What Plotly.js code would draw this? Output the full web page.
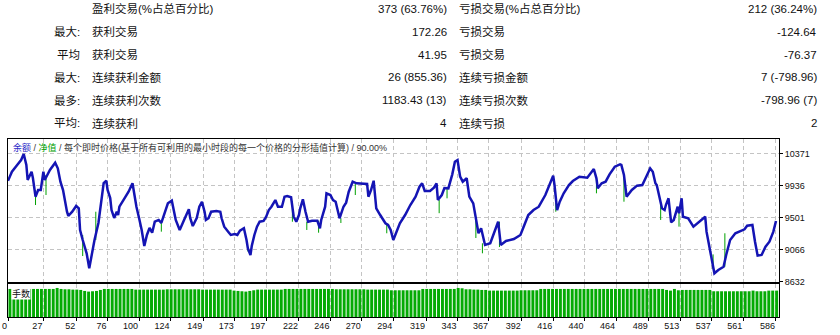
<!DOCTYPE html>
<html><head><meta charset="utf-8">
<script src="https://cdn.plot.ly/plotly-3.0.1.min.js"></script>
<style>html,body{margin:0;padding:0;background:#fff;}#chart{width:840px;height:335px;}</style>
</head><body><div id="chart"></div>
<script>
// ---------- data ----------
const balIdx = [0,3,7,10,12,14,15,18,19,21,23,25,27,28,30,32,36,38,40,42,45,46,49,52,54,55,57,60,62,64,66,69,71,73,75,76,78,79,81,83,84,85,89,92,95,96,98,100,102,104,106,108,110,112,115,117,120,122,125,126,128,131,133,135,138,139,141,144,146,148,150,151,153,155,159,162,163,165,168,170,173,175,177,180,182,183,185,186,188,190,192,195,197,199,201,204,206,209,211,213,216,218,220,222,223,225,227,229,232,236,238,239,242,243,246,248,250,253,256,258,260,263,266,274,275,277,279,280,281,284,286,288,290,292,294,296,299,303,307,311,314,316,318,322,325,327,328,331,333,336,339,341,343,345,347,350,352,355,358,359,361,364,368,372,374,376,380,386,391,394,397,401,405,410,412,416,417,419,421,424,428,431,436,442,447,449,450,453,456,459,463,467,468,470,472,476,480,484,487,490,492,494,495,497,499,501,502,504,506,508,511,512,514,515,519,523,527,532,533,535,537,539,542,546,548,551,555,559,562,564,568,570,572,575,578,581,584,586];
const balVal = [10000,10124,10215,10283,10364,10215,10011,10124,10038,9784,9875,9875,10124,10011,10079,10147,10246,10170,9988,9875,9580,9522,9580,9658,9626,9332,9196,9015,8811,9015,9196,9427,9739,9970,10001,9875,9766,9603,9495,9580,9535,9648,9766,9852,9966,9852,9648,9495,9332,9114,9264,9359,9295,9444,9468,9427,9580,9694,9730,9626,9468,9332,9427,9495,9613,9495,9386,9495,9648,9716,9580,9468,9491,9580,9590,9580,9491,9377,9309,9264,9277,9264,9322,9355,9196,9083,8992,9114,9264,9377,9444,9454,9512,9603,9648,9739,9648,9648,9784,9794,9776,9512,9444,9535,9626,9749,9580,9444,9458,9458,9355,9468,9648,9830,9807,9739,9716,9491,9648,9703,9852,9988,9966,9957,9784,9875,10001,9807,9626,9535,9477,9423,9400,9332,9196,9287,9423,9535,9671,9784,9920,9966,9862,9862,9906,9966,9739,9807,9902,9898,10088,10260,10283,10056,9988,10034,9784,9694,9355,9287,9355,9128,9151,9332,9444,9128,9182,9209,9264,9400,9535,9603,9648,9807,9898,10069,9943,9603,9716,9830,9943,9997,10056,10042,10160,10034,9898,9966,9988,10088,10192,10224,10215,10079,9784,9875,9934,9943,10056,10170,10124,9966,9943,9784,9626,9603,9671,9762,9436,9468,9648,9559,9762,9512,9491,9377,9436,9512,9309,9128,8947,8743,8788,8833,8992,9196,9287,9318,9341,9390,9400,9173,8983,8992,9105,9173,9309,9454];

// equity excursions (green) : trade index, equity at start, equity at extreme
const eqIdx  = [21,29,57,67,117,183,217,228,237,254,265,289,329,335,357,362,375,418,449,470,498,512,538,547];
const eqFrom = [9875,10079,9264,9196,9427,9083,9720,9444,9458,9491,9966,9423,9739,9898,9500,9151,9444,9700,10034,10079,9700,9600,9000,8833];
const eqTo   = [9671,9807,8978,9580,9309,9040,9444,9332,9295,9427,9807,9287,9560,9762,9223,9015,9100,9580,9830,9716,9468,9377,8800,9287];

// lots per bar (one bar per 3 trades)
const volVal = [
0.85,0.85,0.85,0.85,0.85,0.85, 0.85,0.85,0.85,0.85,0.85,0.85, 0.88,
0.85,0.84,0.84,0.83,0.83,0.82, 0.79,0.77,0.78,0.79, 0.82,
0.85,0.85,0.85,0.85,0.85,0.85,0.85,0.85,
0.83,0.83,0.83,0.83,0.83,0.83,0.83,0.83,
0.84,0.84,0.84,0.84,0.84,0.84,0.84,0.84,0.84,
0.83,0.83,0.83,0.83,0.83,0.83,0.83,0.83,
0.80,0.79,0.78,0.77,0.79,0.81,
0.83,0.83,0.83,0.83,0.83,0.83,0.83,
0.85,0.85,0.85,0.85,0.85,0.85,0.85,0.85,0.85,0.85,0.85,0.85,0.85,
0.84,0.84,0.84,0.84,0.84,0.84,0.84,0.84,
0.83,0.83,0.83,0.83,0.83,0.83,
0.81,0.81,0.81,0.81,0.81,0.81,0.81,0.81,
0.85,0.85,0.85,0.85,0.85,0.85,0.85,0.85,0.85,
0.88,0.87,
0.84,0.84,0.83,0.83,0.82,0.82,
0.80,0.80,0.80,0.80,0.80,0.80,0.80,0.80,
0.81,0.81,0.81,0.81,0.81,
0.85,0.85,0.85,0.85,0.85,0.85,0.85,0.85,0.85,0.85,0.85,0.85,0.85,0.85,0.85,0.85,
0.85,0.85,0.85,0.85,0.85,0.85,0.85,0.85,0.85,0.85,0.85,0.85,0.85,0.85,0.85,0.85,
0.82,0.80,0.85,0.81,0.82,
0.82,0.82,0.82,0.82,0.82,0.82,0.82,
0.78,0.78,0.78,0.78,0.78,0.78,0.78,0.78,0.78,0.78,
0.80, 0.78,0.78,0.78, 0.80,0.80,0.80];

const xTicks = [0,27,52,76,100,124,149,173,197,222,246,270,294,319,343,367,392,416,440,464,489,513,537,561,586];
const yTicks = [8632,9066,9501,9936,10371];

const rowLabelA = ["", "最大:", "平均", "最大:", "最多:", "平均:"];
const rowLabelB = ["盈利交易(%占总百分比)", "获利交易", "获利交易", "连续获利金额", "连续获利次数", "连续获利"];
const rowValueB = ["373 (63.76%)", "172.26", "41.95", "26 (855.36)", "1183.43 (13)", "4"];
const rowLabelC = ["亏损交易(%占总百分比)", "亏损交易", "亏损交易", "连续亏损金额", "连续亏损次数", "连续亏损"];
const rowValueC = ["212 (36.24%)", "-124.64", "-76.37", "7 (-798.96)", "-798.96 (7)", "2"];

// ---------- build ----------
const W = 840, H = 335;
const px = x => x / W, py = y => 1 - y / H;
const FONT = 'Liberation Sans, "Noto Sans CJK SC", sans-serif';

const eqX = [], eqY = [];
eqIdx.forEach((v, i) => { eqX.push(v, v, null); eqY.push(eqFrom[i], eqTo[i], null); });
const volX = volVal.map((_, i) => 1.5 + 3 * i);

const traces = [
  {x: eqX, y: eqY, type: 'scatter', mode: 'lines', line: {color: '#00a000', width: 1}, connectgaps: false, xaxis: 'x', yaxis: 'y', hoverinfo: 'skip'},
  {x: balIdx, y: balVal, type: 'scatter', mode: 'lines', line: {color: '#1414b4', width: 2.5}, xaxis: 'x', yaxis: 'y', hoverinfo: 'skip'},
  {x: volX, y: volVal, type: 'bar', marker: {color: '#04aa04', line: {width: 0}}, xaxis: 'x2', yaxis: 'y2', hoverinfo: 'skip'}
];

const ann = [];
const rowY = i => 9 + 22.8 * i;
for (let i = 0; i < 6; i++) {
  const common = {xref: 'paper', yref: 'paper', y: py(rowY(i)), yanchor: 'middle', showarrow: false, font: {family: FONT, size: 11.5, color: '#111'}};
  if (rowLabelA[i]) ann.push(Object.assign({}, common, {text: rowLabelA[i], x: px(82), xanchor: 'right'}));
  ann.push(Object.assign({}, common, {text: rowLabelB[i], x: px(90), xanchor: 'left'}));
  ann.push(Object.assign({}, common, {text: rowValueB[i], x: px(449), xanchor: 'right'}));
  ann.push(Object.assign({}, common, {text: rowLabelC[i], x: px(457), xanchor: 'left'}));
  ann.push(Object.assign({}, common, {text: rowValueC[i], x: px(819), xanchor: 'right'}));
}
ann.push({xref: 'paper', yref: 'paper', x: px(11), y: py(147), xanchor: 'left', yanchor: 'middle', showarrow: false,
  font: {family: FONT, size: 9, color: '#333'},
  text: '<span style="color:#2a2ac8">余额</span> / <span style="color:#00a000">净值</span> / 每个即时价格(基于所有可利用的最小时段的每一个价格的分形插值计算) / 90.00%'});
ann.push({xref: 'paper', yref: 'paper', x: px(11), y: py(293), xanchor: 'left', yanchor: 'middle', showarrow: false,
  bgcolor: '#ffffff', borderpad: 0, font: {family: FONT, size: 9, color: '#111'}, text: '手数'});

const xd = [px(8), px(779)];
const grid = {showgrid: true, gridcolor: '#c4c4c4', gridwidth: 1, griddash: '4px,3px'};
const layout = {
  width: W, height: H, margin: {l: 0, r: 0, t: 0, b: 0},
  paper_bgcolor: '#fff', plot_bgcolor: '#fff', showlegend: false, bargap: 0.25,
  xaxis: Object.assign({domain: xd, range: [0, 588.3], anchor: 'y', tickvals: xTicks, showticklabels: false, ticks: '',
    showline: true, mirror: true, linecolor: '#000', linewidth: 1, zeroline: false, fixedrange: true}, grid),
  yaxis: Object.assign({domain: [py(282), py(139)], range: [8625, 10568], side: 'right', tickvals: yTicks, ticktext: yTicks.map(String),
    ticks: 'outside', ticklen: 3, tickcolor: '#000', tickfont: {family: FONT, size: 9, color: '#111'},
    showline: true, mirror: true, linecolor: '#000', linewidth: 1, zeroline: false, automargin: false, fixedrange: true}, grid),
  xaxis2: Object.assign({domain: xd, range: [0, 588.3], anchor: 'y2', tickvals: xTicks, ticktext: xTicks.map(String),
    ticks: 'outside', ticklen: 3, tickcolor: '#000', ticklabelposition: 'outside left', tickfont: {family: FONT, size: 9, color: '#111'},
    showline: true, mirror: true, linecolor: '#000', linewidth: 1, zeroline: false, automargin: false, fixedrange: true}, grid),
  yaxis2: {domain: [py(317), py(284)], range: [0, 1], showticklabels: false, showgrid: false, ticks: '',
    showline: true, mirror: true, linecolor: '#000', linewidth: 1, zeroline: false, fixedrange: true},
  annotations: ann
};
Plotly.newPlot('chart', traces, layout, {staticPlot: true, displayModeBar: false});
</script></body></html>
